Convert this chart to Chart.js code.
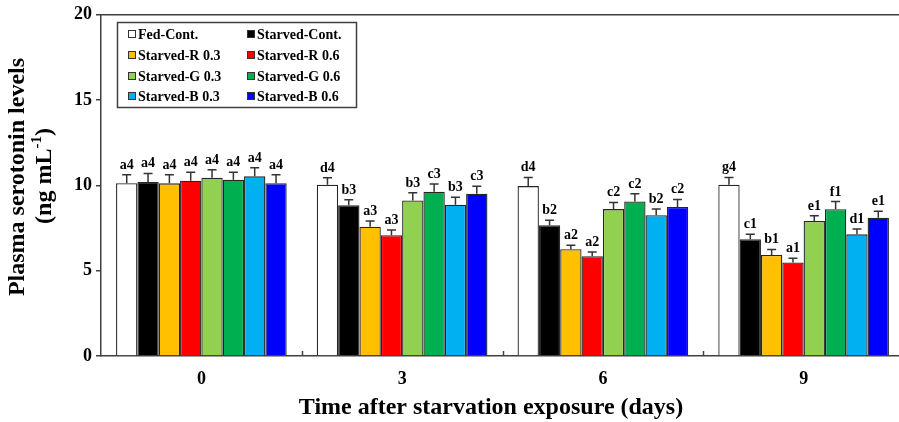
<!DOCTYPE html>
<html>
<head>
<meta charset="utf-8">
<script src="https://cdn.jsdelivr.net/npm/chart.js@4.4.1/dist/chart.umd.min.js"></script>
<style>
  html, body { margin: 0; padding: 0; background: #fff; overflow: hidden; }
  #wrap { width: 899px; height: 422px; overflow: hidden; }
</style>
</head>
<body>
<div id="wrap"><canvas id="chart" width="904" height="422"></canvas></div>
<script>
// days after starvation exposure
const days = ['0', '3', '6', '9'];
const groupNames = ['Fed-Cont.', 'Starved-Cont.', 'Starved-R 0.3', 'Starved-R 0.6',
                    'Starved-G 0.3', 'Starved-G 0.6', 'Starved-B 0.3', 'Starved-B 0.6'];
const groupColors = ['#FFFFFF', '#000000', '#FFC000', '#FF0000',
                     '#92D050', '#00B050', '#00B0F0', '#0000FF'];

// mean serotonin (ng/mL) per group, one value per day
const fedCont   = [10.13, 10.04, 9.96, 10.04];
const starvCont = [10.20, 8.83, 7.66, 6.84];
const starvR03  = [10.12, 7.58, 6.26, 5.92];
const starvR06  = [10.27, 7.08, 5.85, 5.48];
const starvG03  = [10.45, 9.12, 8.61, 7.91];
const starvG06  = [10.33, 9.63, 9.06, 8.60];
const starvB03  = [10.53, 8.87, 8.25, 7.13];
const starvB06  = [10.13, 9.51, 8.73, 8.11];

// standard errors (upper whisker only)
const errFed    = [0.49, 0.41, 0.51, 0.43];
const errStarv  = [0.50, 0.33, 0.29, 0.29];
const errR03    = [0.51, 0.33, 0.23, 0.33];
const errR06    = [0.50, 0.31, 0.25, 0.25];
const errG03    = [0.47, 0.45, 0.39, 0.31];
const errG06    = [0.44, 0.45, 0.45, 0.45];
const errB03    = [0.51, 0.43, 0.37, 0.31];
const errB06    = [0.49, 0.44, 0.45, 0.37];

// significance letters
const letFed    = ['a4', 'd4', 'd4', 'g4'];
const letStarv  = ['a4', 'b3', 'b2', 'c1'];
const letR03    = ['a4', 'a3', 'a2', 'b1'];
const letR06    = ['a4', 'a3', 'a2', 'a1'];
const letG03    = ['a4', 'b3', 'c2', 'e1'];
const letG06    = ['a4', 'c3', 'c2', 'f1'];
const letB03    = ['a4', 'b3', 'b2', 'd1'];
const letB06    = ['a4', 'c3', 'c2', 'e1'];

const yTicks = [0, 5, 10, 15, 20];

const means = [fedCont, starvCont, starvR03, starvR06, starvG03, starvG06, starvB03, starvB06];
const errs = [errFed, errStarv, errR03, errR06, errG03, errG06, errB03, errB06];
const letters = [letFed, letStarv, letR03, letR06, letG03, letG06, letB03, letB06];

const FONT = "'Liberation Serif', 'Times New Roman', serif";
const LINE = '#333333';

const plotExtras = {
  id: 'plotExtras',
  afterDatasetsDraw(chart) {
    const ctx = chart.ctx;
    const area = chart.chartArea;
    const x = chart.scales.x;
    const y = chart.scales.y;
    ctx.save();

    // top frame line
    ctx.strokeStyle = '#404040';
    ctx.lineWidth = 1.5;
    ctx.beginPath();
    ctx.moveTo(area.left, area.top);
    ctx.lineTo(area.right, area.top);
    ctx.stroke();

    // small inward ticks between day groups
    for (let i = 0; i < days.length - 1; i++) {
      const bx = Math.round((x.getPixelForValue(i) + x.getPixelForValue(i + 1)) / 2) + 0.5;
      ctx.beginPath();
      ctx.moveTo(bx, area.bottom);
      ctx.lineTo(bx, area.bottom - 5);
      ctx.stroke();
    }

    // error bars and letters
    ctx.strokeStyle = LINE;
    ctx.lineWidth = 1.5;
    ctx.fillStyle = '#000';
    ctx.font = 'bold 14px ' + FONT;
    ctx.textAlign = 'center';
    ctx.textBaseline = 'alphabetic';
    chart.data.datasets.forEach((ds, di) => {
      const meta = chart.getDatasetMeta(di);
      meta.data.forEach((bar, j) => {
        const top = y.getPixelForValue(ds.data[j] + ds.errors[j]);
        ctx.beginPath();
        ctx.moveTo(bar.x, bar.y);
        ctx.lineTo(bar.x, top);
        ctx.moveTo(bar.x - 4.5, top);
        ctx.lineTo(bar.x + 4.5, top);
        ctx.stroke();
        ctx.fillText(ds.letters[j], bar.x, top - 6);
      });
    });

    // legend box
    ctx.strokeStyle = '#404040';
    ctx.lineWidth = 1.5;
    ctx.strokeRect(117.5, 22.5, 239, 85);
    const colX = [128, 247];
    const rowY = [34, 55, 76, 96];
    ctx.font = 'bold 14px ' + FONT;
    ctx.textAlign = 'left';
    ctx.textBaseline = 'middle';
    chart.data.datasets.forEach((ds, di) => {
      const cx = colX[di % 2];
      const cy = rowY[Math.floor(di / 2)];
      ctx.fillStyle = ds.backgroundColor;
      ctx.fillRect(cx, cy - 4, 8, 8);
      ctx.strokeStyle = '#333';
      ctx.lineWidth = 1;
      ctx.strokeRect(cx + 0.5, cy - 3.5, 7, 7);
      ctx.fillStyle = '#000';
      ctx.fillText(ds.label, cx + 10, cy + 1);
    });

    // x axis title
    ctx.font = 'bold 24px ' + FONT;
    ctx.textAlign = 'center';
    ctx.textBaseline = 'alphabetic';
    ctx.fillText('Time after starvation exposure (days)', 491, 414);

    // y axis title, two lines with superscript
    ctx.save();
    ctx.translate(24, 177);
    ctx.rotate(-Math.PI / 2);
    ctx.fillText('Plasma serotonin levels', 0, 0);
    ctx.restore();

    ctx.save();
    ctx.translate(51, 176);
    ctx.rotate(-Math.PI / 2);
    ctx.textAlign = 'left';
    const mainFont = 'bold 24px ' + FONT;
    const supFont = 'bold 15px ' + FONT;
    ctx.font = mainFont;
    const w1 = ctx.measureText('(ng mL').width;
    const w3 = ctx.measureText(')').width;
    ctx.font = supFont;
    const w2 = ctx.measureText('-1').width;
    let px = -(w1 + w2 + w3) / 2;
    ctx.font = mainFont;
    ctx.fillText('(ng mL', px, 0);
    px += w1;
    ctx.font = supFont;
    ctx.fillText('-1', px, -10);
    px += w2;
    ctx.font = mainFont;
    ctx.fillText(')', px, 0);
    ctx.restore();

    ctx.restore();
  }
};

const canvas = document.getElementById('chart');
const ctx = canvas.getContext('2d');

new Chart(ctx, {
  type: 'bar',
  data: {
    labels: days,
    datasets: groupNames.map((name, i) => ({
      label: name,
      data: means[i],
      errors: errs[i],
      letters: letters[i],
      backgroundColor: groupColors[i],
      borderColor: '#262626',
      borderWidth: 1.3,
      categoryPercentage: 0.85,
      barPercentage: 1
    }))
  },
  options: {
    responsive: false,
    animation: false,
    layout: { padding: { top: 14, left: 0, right: 0, bottom: 0 } },
    plugins: {
      legend: { display: false },
      tooltip: { enabled: false }
    },
    scales: {
      x: {
        grid: { display: false, drawTicks: false },
        border: { display: true, color: '#404040', width: 1.5 },
        ticks: {
          color: '#000',
          font: { family: FONT, size: 18, weight: 'bold' },
          padding: 13
        },
        afterFit: function(scale) { scale.height = 66; }
      },
      y: {
        min: 0,
        max: 20,
        afterBuildTicks: function(scale) {
          scale.ticks = yTicks.map(v => ({ value: v }));
        },
        grid: { drawOnChartArea: false, drawTicks: true, tickLength: 5, color: '#404040', lineWidth: 1.5 },
        border: { display: true, color: '#404040', width: 1.5 },
        ticks: {
          color: '#000',
          font: { family: FONT, size: 18, weight: 'bold' },
          padding: 4
        },
        afterFit: function(scale) { scale.width = 101; }
      }
    }
  },
  plugins: [plotExtras]
});
</script>
</body>
</html>
